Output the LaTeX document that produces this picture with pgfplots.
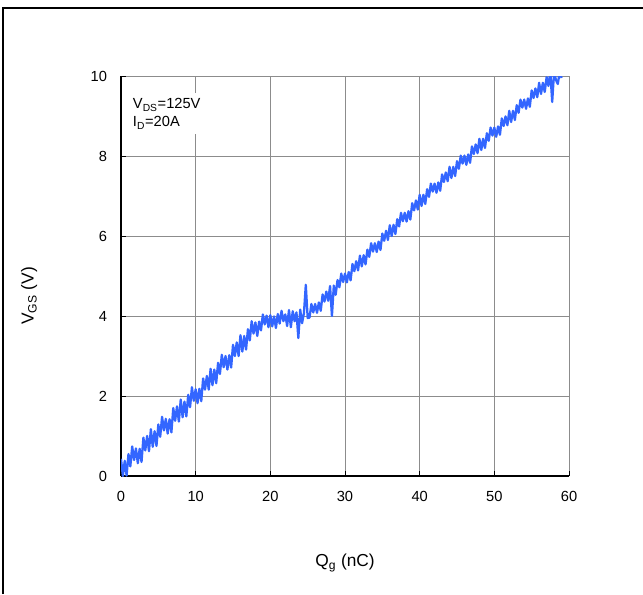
\documentclass[border=0pt]{standalone}
\usepackage{pgfplots}
\pgfplotsset{compat=1.18}
\usepackage{fontspec}
\setmainfont{Liberation Sans}
\definecolor{trace}{RGB}{51,102,255}
\definecolor{gridgray}{RGB}{140,140,140}
\begin{document}
\begin{tikzpicture}
\useasboundingbox (0,0) rectangle (482.25pt,445.5pt);
\draw[line width=1pt] (2.25pt,0) -- (2.25pt,439.5pt) -- (482.25pt,439.5pt);
\begin{axis}[
  at={(90.75pt,88.5pt)}, anchor=south west,
  scale only axis, width=336pt, height=300pt,
  xmin=0, xmax=60, ymin=0, ymax=10,
  xtick={0,10,...,60}, ytick={0,2,...,10},
  grid=major, grid style={gridgray, line width=0.75pt},
  axis x line*=bottom, axis y line*=left,
  axis line style={black, line width=1pt, -},
  tick style={black, line width=0.75pt},
  tick align=inside, major tick length=4pt,
  ticklabel style={font=\fontsize{11}{13}\selectfont},
  /pgf/number format/assume math mode=true,
  xticklabel style={yshift=-8pt},
  yticklabel style={xshift=-7pt},
  xlabel={Q\textsubscript{g} (nC)},
  ylabel={V\textsubscript{GS} (V)},
  label style={font=\fontsize{13}{15}\selectfont},
  xlabel style={at={(axis description cs:0.5,-0.2175)}, anchor=center},
  ylabel style={at={(axis description cs:-0.205,0.45)}, anchor=center},
]
\addplot[trace, line width=1.7pt, line join=round] coordinates {
(0,0.43)(0.25,0.0)(0.5,0.38)(0.75,0.01)(1,0.55)(1.25,0.24)(1.5,0.74)(1.75,0.40)(2,0.69)(2.25,0.32)(2.5,0.68)(2.75,0.35)(3,0.96)(3.25,0.64)(3.5,1.0)(3.75,0.62)
(4,1.17)(4.25,0.73)(4.5,1.12)(4.75,0.75)(5,1.29)(5.25,0.98)(5.5,1.48)(5.75,1.14)(6,1.43)(6.25,1.06)(6.5,1.42)(6.75,1.09)(7,1.70)(7.25,1.38)(7.5,1.74)(7.75,1.36)
(8,1.91)(8.25,1.47)(8.5,1.86)(8.75,1.49)(9,2.03)(9.25,1.72)(9.5,2.22)(9.75,1.88)(10,2.17)(10.25,1.82)(10.5,2.18)(10.75,1.87)(11,2.44)(11.25,2.16)(11.5,2.50)(11.75,2.16)
(12,2.68)(12.25,2.27)(12.5,2.66)(12.75,2.32)(13,2.83)(13.25,2.55)(13.5,3.03)(13.75,2.72)(14,3.00)(14.25,2.66)(14.5,3.02)(14.75,2.71)(15,3.28)(15.25,3.00)(15.5,3.34)(15.75,3.00)
(16,3.52)(16.25,3.11)(16.5,3.50)(16.75,3.16)(17,3.67)(17.25,3.39)(17.5,3.87)(17.75,3.56)(18,3.84)(18.25,3.50)(18.5,3.86)(18.75,3.64)(19,4.04)(19.25,3.79)(19.5,4.01)(19.75,3.72)
(20,4.02)(20.25,3.74)(20.5,3.99)(20.75,3.70)(21,4.05)(21.25,3.81)(21.5,4.13)(21.75,3.87)(22,4.04)(22.25,3.75)(22.5,4.15)(22.75,3.72)(23,4.12)(23.25,3.87)(23.5,4.09)(23.75,3.45)
(24,4.16)(24.25,3.82)(24.5,4.07)(24.75,4.78)(25,3.95)(25.25,3.96)(25.5,4.30)(25.75,4.09)(26,4.30)(26.25,4.08)(26.5,4.34)(26.75,4.13)(27,4.54)(27.25,4.36)(27.5,4.61)(27.75,4.38)
(28,4.75)(28.25,4.00)(28.5,4.76)(28.75,4.53)(29,4.90)(29.25,4.72)(29.5,5.06)(29.75,4.85)(30,5.06)(30.25,4.84)(30.5,5.10)(30.75,4.89)(31,5.30)(31.25,5.12)(31.5,5.37)(31.75,5.14)
(32,5.51)(32.25,5.24)(32.5,5.52)(32.75,5.29)(33,5.66)(33.25,5.48)(33.5,5.82)(33.75,5.61)(34,5.82)(34.25,5.60)(34.5,5.86)(34.75,5.65)(35,6.06)(35.25,5.88)(35.5,6.13)(35.75,5.90)
(36,6.27)(36.25,6.00)(36.5,6.28)(36.75,6.05)(37,6.42)(37.25,6.24)(37.5,6.58)(37.75,6.37)(38,6.58)(38.25,6.36)(38.5,6.62)(38.75,6.41)(39,6.82)(39.25,6.64)(39.5,6.89)(39.75,6.66)
(40,7.03)(40.25,6.75)(40.5,7.03)(40.75,6.80)(41,7.17)(41.25,6.98)(41.5,7.31)(41.75,7.11)(42,7.31)(42.25,7.08)(42.5,7.34)(42.75,7.13)(43,7.54)(43.25,7.35)(43.5,7.59)(43.75,7.37)
(44,7.73)(44.25,7.45)(44.5,7.73)(44.75,7.50)(45,7.87)(45.25,7.68)(45.5,8.01)(45.75,7.81)(46,8.01)(46.25,7.78)(46.5,8.04)(46.75,7.83)(47,8.24)(47.25,8.05)(47.5,8.29)(47.75,8.07)
(48,8.43)(48.25,8.15)(48.5,8.43)(48.75,8.20)(49,8.57)(49.25,8.38)(49.5,8.71)(49.75,8.51)(50,8.71)(50.25,8.48)(50.5,8.74)(50.75,8.53)(51,8.94)(51.25,8.75)(51.5,8.99)(51.75,8.77)
(52,9.13)(52.25,8.85)(52.5,9.13)(52.75,8.90)(53,9.27)(53.25,9.08)(53.5,9.41)(53.75,9.21)(54,9.41)(54.25,9.18)(54.5,9.44)(54.75,9.23)(55,9.64)(55.25,9.45)(55.5,9.69)(55.75,9.47)
(56,9.83)(56.25,9.55)(56.5,9.83)(56.75,9.60)(57,9.97)(57.25,9.75)(57.5,10.1)(57.75,9.35)(58,10.1)(58.25,9.9)(58.5,9.8)(58.75,10.1)(59,9.95)
};
\node[anchor=north west, fill=white, inner xsep=1.5pt, inner ysep=4pt, align=left,
  font=\fontsize{11}{13.5}\selectfont] at (axis cs:1.3,9.575)
  {V\textsubscript{DS}=125V\\I\textsubscript{D}=20A};
\end{axis}
\end{tikzpicture}
\end{document}
